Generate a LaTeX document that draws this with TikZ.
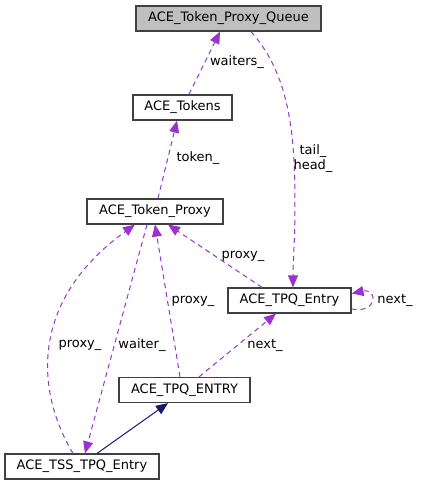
\documentclass[tikz,border=0pt]{standalone}
\usepackage{fontspec}
\setmainfont{DejaVu Sans}
\usetikzlibrary{arrows.meta}
\definecolor{edgepurple}{HTML}{9A32CD}
\definecolor{edgenavy}{HTML}{191970}
\definecolor{boxgray}{HTML}{BFBFBF}
\definecolor{boxline}{HTML}{404040}
\tikzset{
  cls/.style={draw=boxline, line width=1.2pt, fill=white, minimum height=25pt, inner sep=0pt, font=\fontsize{13}{15}\selectfont},
  rel/.style={draw=edgepurple, line width=1pt, dash pattern=on 5pt off 4pt, -{Triangle[length=12pt,width=10pt,fill=edgepurple]}},
  inh/.style={draw=edgenavy, line width=1pt, -{Triangle[length=12pt,width=10pt,fill=edgenavy]}},
  lbl/.style={font=\fontsize{13}{15}\selectfont, inner sep=0pt, align=center}
}
\begin{document}
\begin{tikzpicture}[x=1pt,y=-1pt]
\useasboundingbox (0,0) rectangle (422,485);
\node[cls, fill=boxgray, minimum width=185pt] (Q) at (228.5,18.5) {ACE\_Token\_Proxy\_Queue};
\node[cls, minimum width=99pt] (T) at (182.5,107.5) {ACE\_Tokens};
\node[cls, minimum width=136pt] (TP) at (155,211.5) {ACE\_Token\_Proxy};
\node[cls, minimum width=123pt] (E) at (289.5,300.5) {ACE\_TPQ\_Entry};
\node[cls, minimum width=131pt] (EN) at (184.5,390) {ACE\_TPQ\_ENTRY};
\node[cls, minimum width=154pt] (TSS) at (82,466.5) {ACE\_TSS\_TPQ\_Entry};

\draw[rel] ([xshift=6.5pt]T.north) -- ([xshift=-8.5pt]Q.south);
\draw[rel] ([xshift=3pt]TP.north) -- ([xshift=-5.5pt]T.south);
\draw[rel] ([xshift=22.5pt]Q.south) .. controls (285,70) and (295,120) .. (295,200) .. controls (295,240) and (293,262) .. ([xshift=3.5pt]E.north);
\draw[rel] ([xshift=-27.5pt]E.north) -- ([xshift=13pt]TP.south);
\draw[rel] ([yshift=-8.5pt]E.east) .. controls (378,314) and (378,288) .. ([yshift=7pt]E.east);
\draw[rel] ([xshift=14.5pt]EN.north) -- ([xshift=-13.5pt]E.south);
\draw[rel] ([xshift=-4.5pt]EN.north) -- (TP.south);
\draw[rel] ([xshift=-8pt]TP.south) -- ([xshift=3pt]TSS.north);
\draw[rel] ([xshift=-9pt]TSS.north) .. controls (35,390) and (30,300) .. ([xshift=-20pt]TP.south);
\draw[inh] ([xshift=15pt]TSS.north) -- ([xshift=-16.5pt]EN.south);

\node[lbl] (l1) at (237,62) {waiters\_};
\node[lbl] (l2) at (198,158) {token\_};
\node[lbl] (l3) at (313,159) {tail\_\\head\_};
\node[lbl] (l4) at (243,256) {proxy\_};
\node[lbl] (l5) at (395,300) {next\_};
\node[lbl] (l6) at (193,301) {proxy\_};
\node[lbl] (l7) at (265,345) {next\_};
\node[lbl] (l8) at (80,345) {proxy\_};
\node[lbl] (l9) at (142,345) {waiter\_};
\end{tikzpicture}
\end{document}
